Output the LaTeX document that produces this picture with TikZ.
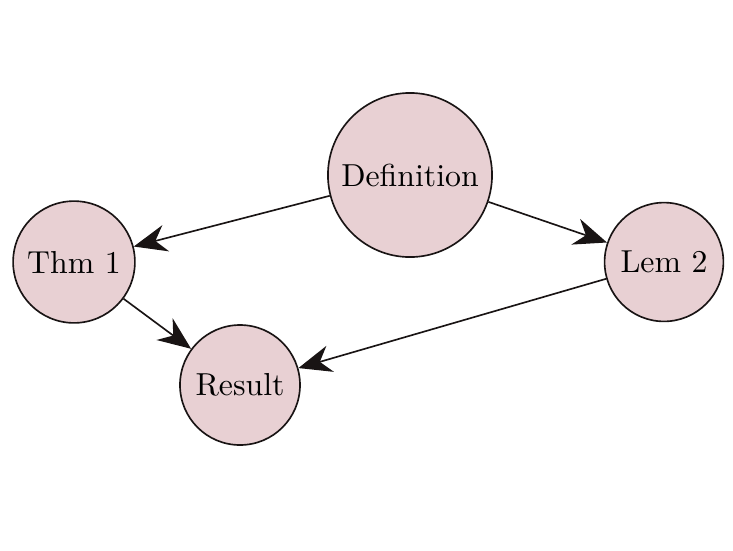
\documentclass[tikz,border=0pt]{standalone}
\usetikzlibrary{arrows.meta}
\definecolor{nodefill}{RGB}{232,208,211}
\definecolor{edgeline}{RGB}{25,20,20}
\begin{document}
\begin{tikzpicture}[x=0.33333pt,y=-0.33333pt,
  circ/.style={circle,draw=edgeline,fill=nodefill,line width=0.55pt,inner sep=0pt,font=\fontsize{10.6}{12}\selectfont},
  conn/.style={draw=edgeline,line width=0.55pt,-{Stealth[length=11pt,width=9pt]}}]
\useasboundingbox (0,0) rectangle (733,550);
\node[circ,minimum size=54.7pt] (def) at (410,175) {Definition};
\node[circ,minimum size=40.6pt] (thm) at (74,262) {Thm 1};
\node[circ,minimum size=39.6pt] (lem) at (664,262) {Lem 2};
\node[circ,minimum size=40pt] (res) at (240,385) {Result};
\draw[conn] (def) -- (thm);
\draw[conn] (def) -- (lem);
\draw[conn] (thm) -- (res);
\draw[conn] (lem) -- (res);
\end{tikzpicture}
\end{document}
